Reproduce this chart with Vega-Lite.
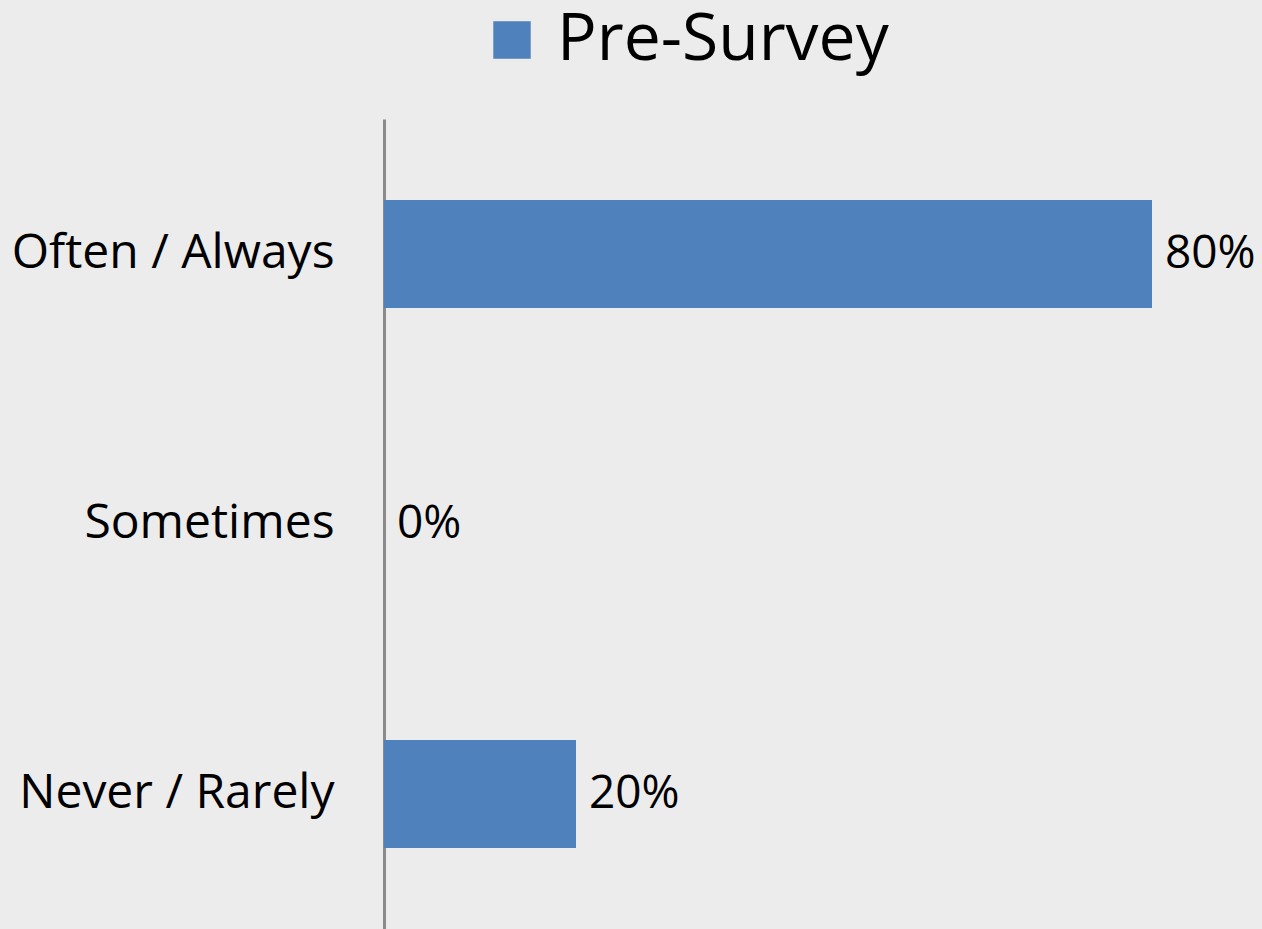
{
  "$schema": "https://vega.github.io/schema/vega-lite/v6.json",
  "autosize": "none",
  "padding": {"left": 384, "top": 119, "right": 14, "bottom": 0},
  "width": 864,
  "height": 810,
  "background": "#ececec",
  "config": {
    "view": {"stroke": null},
    "font": "Open Sans"
  },
  "data": {
    "values": [
      {"response": "Often / Always", "series": "Pre-Survey", "pct": 0.8},
      {"response": "Sometimes", "series": "Pre-Survey", "pct": 0.0},
      {"response": "Never / Rarely", "series": "Pre-Survey", "pct": 0.2}
    ]
  },
  "encoding": {
    "y": {
      "field": "response",
      "type": "nominal",
      "sort": ["Often / Always", "Sometimes", "Never / Rarely"],
      "scale": {"paddingInner": 0.6, "paddingOuter": 0.3},
      "axis": {
        "title": null,
        "ticks": false,
        "labelFontSize": 48,
        "labelLimit": 0,
        "labelColor": "#000000",
        "labelFont": "Open Sans",
        "labelPadding": 50,
        "domainColor": "#8a8a8a",
        "domainWidth": 3,
        "grid": false
      }
    },
    "x": {
      "field": "pct",
      "type": "quantitative",
      "scale": {"domain": [0, 0.9]},
      "axis": null
    }
  },
  "layer": [
    {
      "mark": {"type": "bar"},
      "encoding": {
        "color": {
          "field": "series",
          "type": "nominal",
          "scale": {"range": ["#4f81bd"]},
          "legend": {
            "title": null,
            "orient": "none",
            "legendX": 95,
            "legendY": -112,
            "symbolType": "square",
            "symbolSize": 1400,
            "symbolStrokeWidth": 0,
            "symbolOpacity": 1,
            "labelFontSize": 66,
            "labelLimit": 0,
            "labelColor": "#000000",
            "labelOffset": 12,
            "labelFont": "Open Sans"
          }
        }
      }
    },
    {
      "mark": {"type": "text", "align": "left", "baseline": "middle", "dx": 13, "fontSize": 46, "color": "#000000"},
      "encoding": {
        "text": {"field": "pct", "type": "quantitative", "format": ".0%"}
      }
    }
  ]
}
